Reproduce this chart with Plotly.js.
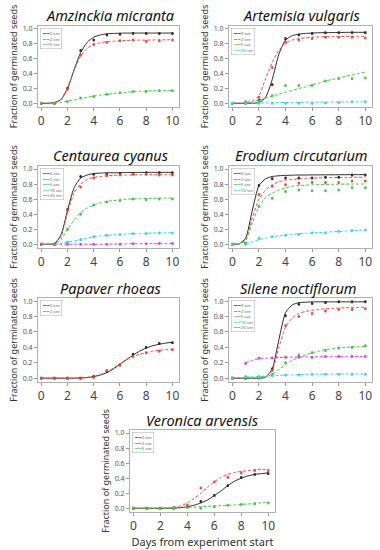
<!DOCTYPE html>
<html>
<head>
<meta charset="utf-8">
<script src="https://cdn.plot.ly/plotly-3.0.1.min.js"></script>
<style>html,body{margin:0;padding:0;background:#fff}#chart{width:380px;height:550px}</style>
</head>
<body>
<div id="chart"></div>
<script>
// ---------------- DATA ----------------
const treatments = ['0 sec', '2 sec', '5 sec', '10 sec', '20 sec'];
const days = [0, 1, 2, 3, 4, 5, 6, 7, 8, 9, 10];
const curveDays = [0, 0.5, 1, 1.5, 2, 2.5, 3, 3.5, 4, 4.5, 5, 5.5, 6, 6.5, 7, 7.5, 8, 8.5, 9, 9.5, 10];
const speciesNames = ['Amzinckia micranta', 'Artemisia vulgaris', 'Centaurea cyanus', 'Erodium circutarium',
                      'Papaver rhoeas', 'Silene noctiflorum', 'Veronica arvensis'];
const xTitle = 'Days from experiment start';
const yTitle = 'Fraction of germinated seeds';

// Amzinckia micranta
const amzPts0 = [0, 0, 0.2, 0.71, 0.85, 0.92, 0.93, 0.94, 0.94, 0.94, 0.94];
const amzPts2 = [0, 0, 0.19, 0.65, 0.79, 0.82, 0.84, 0.85, 0.83, 0.84, 0.85];
const amzPts5 = [0, 0, 0.02, 0.07, 0.09, 0.12, 0.14, 0.16, 0.16, 0.17, 0.17];
const amzFit0 = [0, 0, 0.01, 0.05, 0.2, 0.45, 0.68, 0.82, 0.89, 0.92, 0.935, 0.94, 0.943, 0.945, 0.945, 0.945, 0.945, 0.945, 0.945, 0.945, 0.945];
const amzFit2 = [0, 0, 0.01, 0.05, 0.2, 0.44, 0.63, 0.74, 0.79, 0.815, 0.83, 0.835, 0.84, 0.845, 0.848, 0.85, 0.85, 0.852, 0.853, 0.854, 0.855];
const amzFit5 = [null, null, 0, 0.01, 0.03, 0.045, 0.065, 0.08, 0.095, 0.11, 0.12, 0.13, 0.14, 0.148, 0.155, 0.16, 0.165, 0.168, 0.17, 0.172, 0.175];

// Artemisia vulgaris
const artPts0 = [0, 0, 0.04, 0.25, 0.87, 0.92, 0.94, 0.95, 0.95, 0.95, 0.95];
const artPts2 = [0, 0.01, 0.08, 0.48, 0.82, 0.85, 0.87, 0.89, 0.89, 0.89, 0.88];
const artPts5 = [0, 0.02, 0.03, 0.1, 0.24, 0.24, 0.24, 0.3, 0.33, 0.33, 0.34];
const artPts10 = [0, 0, 0, 0, 0, 0, 0, 0.005, 0.01, 0.02, 0.02];
const artFit0 = [0, 0, 0, 0, 0.01, 0.08, 0.32, 0.66, 0.85, 0.91, 0.93, 0.94, 0.945, 0.95, 0.95, 0.952, 0.953, 0.954, 0.955, 0.955, 0.955];
const artFit2 = [0, 0, 0.005, 0.03, 0.1, 0.33, 0.55, 0.71, 0.81, 0.85, 0.87, 0.88, 0.89, 0.893, 0.895, 0.897, 0.898, 0.899, 0.9, 0.9, 0.9];
const artFit5 = [null, null, 0.01, 0.02, 0.04, 0.07, 0.1, 0.12, 0.15, 0.17, 0.2, 0.22, 0.25, 0.27, 0.3, 0.32, 0.34, 0.36, 0.38, 0.4, 0.42];
const artFit10 = [null, null, 0, 0.002, 0.004, 0.006, 0.008, 0.009, 0.01, 0.011, 0.012, 0.013, 0.014, 0.015, 0.016, 0.017, 0.018, 0.018, 0.019, 0.019, 0.02];

// Centaurea cyanus
const cenPts0 = [0, 0, 0.46, 0.9, 0.93, 0.93, 0.94, 0.94, 0.95, 0.95, 0.95];
const cenPts2 = [0, 0, 0.45, 0.76, 0.88, 0.91, 0.92, 0.93, 0.93, 0.92, 0.92];
const cenPts5 = [0, 0, 0.2, 0.4, 0.52, 0.56, 0.58, 0.6, 0.59, 0.6, 0.6];
const cenPts10 = [0, 0, 0.03, 0.06, 0.1, 0.12, 0.13, 0.14, 0.14, 0.15, 0.15];
const cenPts20 = [0, 0, 0, 0, 0, 0, 0, 0.005, 0.005, 0.01, 0.01];
const cenFit0 = [0, 0, 0.01, 0.12, 0.45, 0.75, 0.88, 0.92, 0.94, 0.945, 0.95, 0.95, 0.952, 0.953, 0.954, 0.955, 0.955, 0.955, 0.955, 0.955, 0.955];
const cenFit2 = [0, 0, 0.01, 0.1, 0.42, 0.68, 0.8, 0.86, 0.89, 0.9, 0.91, 0.915, 0.92, 0.92, 0.922, 0.923, 0.924, 0.924, 0.925, 0.925, 0.925];
const cenFit5 = [0, 0, 0.01, 0.06, 0.2, 0.32, 0.42, 0.48, 0.52, 0.55, 0.57, 0.58, 0.59, 0.6, 0.6, 0.605, 0.61, 0.61, 0.612, 0.614, 0.615];
const cenFit10 = [null, null, 0, 0.01, 0.03, 0.045, 0.06, 0.08, 0.1, 0.11, 0.12, 0.125, 0.13, 0.135, 0.14, 0.143, 0.145, 0.148, 0.15, 0.152, 0.155];
const cenFit20 = [null, null, 0, 0, 0, 0, 0, 0, 0, 0, 0.002, 0.003, 0.004, 0.005, 0.006, 0.007, 0.008, 0.008, 0.009, 0.01, 0.01];

// Erodium circutarium
const eroPts0 = [0, 0.01, 0.78, 0.87, 0.88, 0.88, 0.88, 0.89, 0.89, 0.92, 0.92];
const eroPts2 = [0, 0.01, 0.66, 0.77, 0.79, 0.81, 0.82, 0.82, 0.82, 0.84, 0.84];
const eroPts5 = [0, 0.01, 0.5, 0.61, 0.7, 0.72, 0.71, 0.71, 0.72, 0.75, 0.75];
const eroPts10 = [0, 0, 0.08, 0.1, 0.12, 0.13, 0.15, 0.15, 0.17, 0.18, 0.19];
const eroFit0 = [0, 0.005, 0.08, 0.45, 0.78, 0.87, 0.9, 0.91, 0.915, 0.918, 0.92, 0.92, 0.922, 0.922, 0.923, 0.923, 0.924, 0.924, 0.925, 0.925, 0.925];
const eroFit2 = [0, 0.005, 0.06, 0.35, 0.6, 0.72, 0.79, 0.83, 0.85, 0.86, 0.87, 0.875, 0.88, 0.882, 0.884, 0.886, 0.887, 0.888, 0.889, 0.89, 0.89];
const eroFit5 = [0, 0.005, 0.05, 0.28, 0.5, 0.62, 0.68, 0.72, 0.75, 0.77, 0.78, 0.785, 0.79, 0.793, 0.795, 0.797, 0.798, 0.799, 0.8, 0.8, 0.8];
const eroFit10 = [null, null, 0.01, 0.03, 0.06, 0.08, 0.1, 0.11, 0.12, 0.13, 0.14, 0.145, 0.15, 0.155, 0.16, 0.165, 0.17, 0.175, 0.18, 0.185, 0.19];

// Papaver rhoeas
const papPts0 = [0, 0, 0, 0, 0.02, 0.09, 0.17, 0.31, 0.4, 0.45, 0.46];
const papPts2 = [0, 0, 0, 0, 0.01, 0.1, 0.17, 0.28, 0.33, 0.35, 0.37];
const papFit0 = [0, 0, 0, 0, 0, 0, 0.002, 0.008, 0.02, 0.04, 0.07, 0.12, 0.18, 0.24, 0.3, 0.35, 0.39, 0.42, 0.44, 0.455, 0.465];
const papFit2 = [0, 0, 0, 0, 0, 0, 0.003, 0.01, 0.025, 0.045, 0.08, 0.13, 0.19, 0.24, 0.28, 0.31, 0.33, 0.35, 0.36, 0.37, 0.375];

// Silene noctiflorum
const silPts0 = [0, 0, 0.01, 0.12, 0.81, 0.96, 0.97, 0.98, 0.99, 0.99, 0.99];
const silPts2 = [0, 0, 0.01, 0.1, 0.68, 0.8, 0.84, 0.87, 0.89, 0.89, 0.9];
const silPts5 = [0, 0, 0, 0.05, 0.2, 0.3, 0.33, 0.36, 0.39, 0.4, 0.42];
const silPts10 = [0, 0.02, 0.02, 0.03, 0.04, 0.04, 0.05, 0.05, 0.05, 0.05, 0.05];
const silPts20 = [null, 0.19, 0.26, 0.26, 0.27, 0.27, 0.27, 0.28, 0.28, 0.28, 0.28];
const silFit0 = [0, 0, 0, 0, 0, 0.01, 0.12, 0.5, 0.85, 0.95, 0.98, 0.985, 0.99, 0.99, 0.99, 0.99, 0.99, 0.99, 0.99, 0.99, 0.99];
const silFit2 = [0, 0, 0, 0, 0.005, 0.02, 0.1, 0.4, 0.66, 0.78, 0.84, 0.865, 0.88, 0.89, 0.9, 0.905, 0.91, 0.913, 0.916, 0.918, 0.92];
const silFit5 = [null, null, null, null, 0, 0.01, 0.05, 0.11, 0.18, 0.23, 0.27, 0.3, 0.33, 0.35, 0.37, 0.38, 0.39, 0.4, 0.405, 0.41, 0.415];
const silFit10 = [null, null, 0.02, 0.02, 0.02, 0.025, 0.03, 0.035, 0.04, 0.042, 0.045, 0.047, 0.05, 0.05, 0.052, 0.053, 0.054, 0.055, 0.055, 0.055, 0.055];
const silFit20 = [null, null, 0.2, 0.23, 0.25, 0.26, 0.265, 0.268, 0.27, 0.272, 0.275, 0.276, 0.277, 0.278, 0.278, 0.279, 0.279, 0.28, 0.28, 0.28, 0.28];

// Veronica arvensis
const verPts0 = [0, 0, 0, 0, 0.02, 0.09, 0.17, 0.3, 0.41, 0.45, 0.46];
const verPts2 = [0, 0, 0, 0.01, 0.04, 0.27, 0.35, 0.41, 0.47, 0.5, 0.5];
const verPts5 = [0, 0, 0, 0, 0.01, 0, 0.02, 0.04, 0.05, 0.06, 0.07];
const verFit0 = [0, 0, 0, 0, 0, 0, 0.002, 0.008, 0.02, 0.04, 0.07, 0.11, 0.17, 0.23, 0.3, 0.36, 0.4, 0.43, 0.45, 0.46, 0.47];
const verFit2 = [0, 0, 0, 0, 0, 0.002, 0.01, 0.03, 0.07, 0.13, 0.2, 0.28, 0.35, 0.41, 0.45, 0.475, 0.49, 0.5, 0.51, 0.515, 0.52];
const verFit5 = [0, 0, 0, 0, 0, 0, 0.003, 0.006, 0.01, 0.015, 0.02, 0.025, 0.03, 0.035, 0.04, 0.045, 0.05, 0.057, 0.065, 0.072, 0.08];

const panelData = [
  {pts: [amzPts0, amzPts2, amzPts5], fits: [amzFit0, amzFit2, amzFit5]},
  {pts: [artPts0, artPts2, artPts5, artPts10], fits: [artFit0, artFit2, artFit5, artFit10]},
  {pts: [cenPts0, cenPts2, cenPts5, cenPts10, cenPts20], fits: [cenFit0, cenFit2, cenFit5, cenFit10, cenFit20]},
  {pts: [eroPts0, eroPts2, eroPts5, eroPts10], fits: [eroFit0, eroFit2, eroFit5, eroFit10]},
  {pts: [papPts0, papPts2], fits: [papFit0, papFit2]},
  {pts: [silPts0, silPts2, silPts5, silPts10, silPts20], fits: [silFit0, silFit2, silFit5, silFit10, silFit20]},
  {pts: [verPts0, verPts2, verPts5], fits: [verFit0, verFit2, verFit5]}
];

// ---------------- STYLE / LAYOUT ----------------
const W = 380, H = 550;
const seriesColors = ['#2a2a2a', '#f0463c', '#3cc83c', '#2fd8d8', '#e03ce0'];
// plot boxes in pixels: [left, right], [top, bottom]
const boxes = [
  {x: [38, 179], y: [26, 107]},
  {x: [229, 372], y: [26, 107]},
  {x: [38, 179], y: [166, 248]},
  {x: [229, 372], y: [166, 248]},
  {x: [38, 179], y: [298, 382]},
  {x: [229, 372], y: [298, 382]},
  {x: [130, 275], y: [430, 512]}
];
const titlePos = [[110, 15], [301, 15], [110, 155], [301, 155], [110, 288], [298, 288], [202, 420]];
const px = v => v / W;
const py = v => 1 - v / H;

const traces = [];
const layout = {
  width: W, height: H,
  margin: {l: 0, r: 0, t: 0, b: 0},
  paper_bgcolor: '#ffffff', plot_bgcolor: '#ffffff',
  showlegend: false,
  font: {family: 'Noto Sans, sans-serif', color: '#333'},
  annotations: []
};

panelData.forEach((pd, i) => {
  const n = i + 1;
  const xa = n === 1 ? 'x' : 'x' + n;
  const ya = n === 1 ? 'y' : 'y' + n;
  const b = boxes[i];
  pd.fits.forEach((fit, j) => {
    traces.push({
      x: curveDays, y: fit, xaxis: xa, yaxis: ya, mode: 'lines', type: 'scatter',
      name: treatments[j], hoverinfo: 'skip',
      line: {color: seriesColors[j], width: 1, dash: j === 0 ? 'solid' : '3px,2px', shape: 'spline', smoothing: 0.6}
    });
  });
  pd.pts.forEach((p, j) => {
    traces.push({
      x: days, y: p, xaxis: xa, yaxis: ya, mode: 'markers', type: 'scatter',
      name: treatments[j],
      marker: {color: seriesColors[j], size: 2.5, symbol: 'circle'},
      error_y: {type: 'constant', value: 0.012, color: seriesColors[j], thickness: 0.6, width: 1}
    });
  });
  const axKeyX = n === 1 ? 'xaxis' : 'xaxis' + n;
  const axKeyY = n === 1 ? 'yaxis' : 'yaxis' + n;
  layout[axKeyX] = {
    domain: [px(b.x[0]), px(b.x[1])], anchor: ya, range: [-0.25, 10.5],
    tickvals: [0, 2, 4, 6, 8, 10], ticks: 'outside', ticklen: 3, tickcolor: '#999',
    tickfont: {size: 12, color: '#444'}, showline: true, mirror: true, linecolor: '#b0b0b0', linewidth: 1,
    showgrid: false, zeroline: false, fixedrange: true,
    title: n === 7 ? {text: xTitle, font: {size: 11, color: '#333'}, standoff: 3} : {text: ''}
  };
  layout[axKeyY] = {
    domain: [py(b.y[1]), py(b.y[0])], anchor: xa, range: [-0.05, 1.04],
    tickvals: [0, 0.2, 0.4, 0.6, 0.8, 1.0], tickformat: '.1f', ticks: 'outside', ticklen: 3, tickcolor: '#999',
    tickfont: {size: 7, color: '#555'}, showline: true, mirror: true, linecolor: '#b0b0b0', linewidth: 1,
    showgrid: false, zeroline: false, fixedrange: true,
    title: {text: yTitle, font: {size: 9, color: '#333'}, standoff: 3}
  };
  // species title
  layout.annotations.push({
    xref: 'paper', yref: 'paper', x: px(titlePos[i][0]), y: py(titlePos[i][1]),
    xanchor: 'center', yanchor: 'middle', showarrow: false,
    text: speciesNames[i], font: {size: 14.5, style: 'italic', color: '#111', family: 'Noto Sans, sans-serif'}
  });
  // small in-plot legend box
  const lines = pd.pts.map((p, j) =>
    '<span style="color:' + seriesColors[j] + '">━•━</span> <span style="color:#666">' + treatments[j] + '</span>');
  layout.annotations.push({
    xref: 'paper', yref: 'paper', x: px(b.x[0] + 2), y: py(b.y[0] + 2),
    xanchor: 'left', yanchor: 'top', showarrow: false, align: 'left',
    text: lines.join('<br>'), font: {size: 4.3, color: '#666'},
    bgcolor: '#ffffff', bordercolor: '#aaa', borderwidth: 0.5, borderpad: 1.5
  });
});

Plotly.newPlot('chart', traces, layout, {staticPlot: true, displayModeBar: false});
</script>
</body>
</html>
